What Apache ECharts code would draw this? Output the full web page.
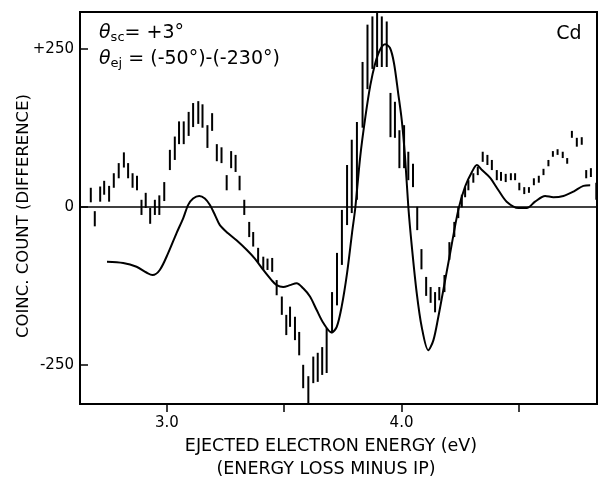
<!DOCTYPE html>
<html>
<head>
<meta charset="utf-8">
<script src="https://cdn.jsdelivr.net/npm/echarts@6/dist/echarts.min.js"></script>
<style>
html,body{margin:0;padding:0;background:#fff;}
#chart{width:598px;height:479px;}
</style>
</head>
<body>
<div id="chart"></div>
<script>
// Measured data points (error bars): energy (eV), lower and upper ends of each bar
var barX = [2.676, 2.693, 2.716, 2.733, 2.754, 2.774, 2.795, 2.817, 2.835, 2.854,
  2.873, 2.892, 2.910, 2.929, 2.949, 2.968, 2.989, 3.013, 3.034, 3.052,
  3.072, 3.093, 3.112, 3.134, 3.152, 3.173, 3.193, 3.213, 3.233, 3.255,
  3.274, 3.293, 3.310, 3.330, 3.351, 3.368, 3.389, 3.411, 3.429, 3.449,
  3.468, 3.490, 3.509, 3.525, 3.546, 3.564, 3.581, 3.603, 3.624, 3.643,
  3.662, 3.681, 3.704, 3.725, 3.746, 3.768, 3.788, 3.810, 3.834, 3.855,
  3.876, 3.896, 3.916, 3.937, 3.953, 3.972, 3.991, 4.011, 4.029, 4.049,
  4.067, 4.085, 4.105, 4.124, 4.143, 4.161, 4.183, 4.204, 4.225, 4.242,
  4.257, 4.271, 4.285, 4.306, 4.325, 4.346, 4.366, 4.385, 4.406, 4.424,
  4.444, 4.466, 4.484, 4.502, 4.523, 4.543, 4.564, 4.585, 4.605, 4.626,
  4.645, 4.665, 4.687, 4.706, 4.726, 4.747, 4.768, 4.787, 4.807, 4.830];
var barHigh = [30, -7, 32, 41, 33, 53, 69, 86, 69, 53,
  49, 11, 22, -2, 11, 18, 39, 90, 111, 135,
  135, 150, 164, 167, 162, 129, 148, 99, 94, 50,
  88, 82, 49, 11, -24, -40, -65, -79, -82, -81,
  -116, -142, -171, -158, -174, -198, -250, -268, -237, -231,
  -222, -192, -135, -73, -5, 66, 106, 134, 229, 288,
  301, 310, 301, 293, 180, 166, 121, 129, 87, 68,
  0, -67, -111, -127, -135, -127, -108, -56, -24, 0,
  19, 31, 42, 53, 63, 87, 82, 74, 58, 55,
  52, 53, 53, 38, 31, 31, 45, 49, 60, 74,
  88, 91, 87, 77, 120, 109, 110, 58, 61, 38];
var barLow = [7, -31, 8, 19, 8, 30, 45, 62, 45, 30,
  26, -13, -2, -27, -13, -13, 9, 58, 74, 99,
  99, 112, 126, 131, 125, 93, 120, 72, 69, 26,
  61, 55, 26, -13, -48, -63, -89, -100, -100, -103,
  -140, -171, -203, -190, -211, -235, -287, -320, -279, -277,
  -266, -263, -200, -156, -92, -29, -10, 11, 125, 186,
  218, 221, 221, 221, 110, 109, 61, 61, 42, 31,
  -37, -99, -141, -152, -167, -148, -135, -84, -48, -18,
  -1, 15, 26, 38, 50, 71, 66, 58, 42, 41,
  39, 42, 42, 26, 20, 22, 34, 38, 50, 64,
  79, 82, 77, 68, 109, 95, 98, 45, 47, 11];

// Theory curve
var curveX = [2.745, 2.814, 2.871, 2.913, 2.939, 2.970, 3.006, 3.041, 3.070, 3.091,
  3.112, 3.138, 3.162, 3.183, 3.205, 3.226, 3.261, 3.297, 3.340, 3.375,
  3.411, 3.446, 3.468, 3.496, 3.525, 3.553, 3.581, 3.610, 3.638, 3.667,
  3.702, 3.724, 3.745, 3.768, 3.789, 3.803, 3.824, 3.846, 3.867, 3.888,
  3.908, 3.930, 3.951, 3.968, 3.986, 4.001, 4.015, 4.029, 4.044, 4.065,
  4.086, 4.114, 4.136, 4.157, 4.178, 4.207, 4.242, 4.271, 4.300, 4.321,
  4.343, 4.377, 4.413, 4.448, 4.498, 4.534, 4.569, 4.612, 4.647, 4.690,
  4.733, 4.775, 4.804];
var curveY = [-87, -89, -95, -104, -108, -100, -73, -42, -18, 3,
  13, 17, 13, 3, -13, -29, -42, -53, -68, -82,
  -100, -116, -124, -127, -124, -121, -129, -142, -163, -184,
  -199, -190, -158, -105, -42, -2, 79, 142, 192, 227,
  248, 257, 251, 227, 179, 137, 79, 0, -63, -137,
  -190, -227, -211, -174, -132, -74, -5, 32, 55, 66,
  58, 46, 26, 8, -2, -2, 8, 17, 15, 17,
  24, 33, 34];

var xTicks = [3.0, 3.5, 4.0, 4.5];
var xLabels = [3.0, 4.0];
var yTicks = [-250, 0, 250];
var yLabels = [-250, 0, 250];

var FONT = 'DejaVu Sans';
var chart = echarts.init(document.getElementById('chart'), null, {renderer: 'canvas'});

var barData = barX.map(function (x, i) { return [x, barLow[i], barHigh[i]]; });
var curveData = curveX.map(function (x, i) { return [x, curveY[i]]; });

chart.setOption({
  animation: false,
  backgroundColor: '#fff',
  grid: {left: 80, right: 1, top: 12, bottom: 75, show: true, borderColor: '#000', borderWidth: 2, backgroundColor: 'transparent'},
  xAxis: {
    type: 'value', min: 2.63, max: 4.833,
    axisLine: {show: true, onZero: false, lineStyle: {color: '#000', width: 2}},
    axisTick: {show: true, inside: false, length: 8, customValues: xTicks, lineStyle: {color: '#000', width: 1.5}},
    axisLabel: {show: true, customValues: xLabels, margin: 12, color: '#000', fontFamily: FONT, fontSize: 15,
      formatter: function (v) { return v.toFixed(1); }},
    splitLine: {show: false}
  },
  yAxis: {
    type: 'value', min: -312, max: 308,
    axisLine: {show: true, onZero: false, lineStyle: {color: '#000', width: 2}},
    axisTick: {show: true, inside: true, length: 8, customValues: yTicks, lineStyle: {color: '#000', width: 1.5}},
    axisLabel: {show: true, customValues: yLabels, margin: 6, color: '#000', fontFamily: FONT, fontSize: 15,
      formatter: function (v) { return v > 0 ? '+' + v : String(v); }},
    splitLine: {show: false}
  },
  graphic: [
    {type: 'text', x: 24, y: 216, rotation: Math.PI / 2,
      style: {text: 'COINC. COUNT (DIFFERENCE)', fill: '#000', font: '16.5px "DejaVu Sans"', textAlign: 'center', textVerticalAlign: 'middle'}},
    {type: 'text', x: 331, y: 446,
      style: {text: 'EJECTED ELECTRON ENERGY (eV)', fill: '#000', font: '17.5px "DejaVu Sans"', textAlign: 'center', textVerticalAlign: 'middle'}},
    {type: 'text', x: 326, y: 469,
      style: {text: '(ENERGY LOSS MINUS IP)', fill: '#000', font: '17.5px "DejaVu Sans"', textAlign: 'center', textVerticalAlign: 'middle'}},
    {type: 'text', x: 569, y: 34,
      style: {text: 'Cd', fill: '#000', font: '19px "DejaVu Sans"', textAlign: 'center', textVerticalAlign: 'middle'}},
    {type: 'text', x: 99, y: 33,
      style: {text: '{t|θ}{s|sc}{n|= +3°}', textAlign: 'left', textVerticalAlign: 'middle', fill: '#000',
        rich: {t: {fontFamily: FONT, fontSize: 19, fontStyle: 'italic'}, s: {fontFamily: FONT, fontSize: 13, padding: [10, 0, 0, 0]}, n: {fontFamily: FONT, fontSize: 19}}}},
    {type: 'text', x: 99, y: 59,
      style: {text: '{t|θ}{s|ej}{n| = (-50°)-(-230°)}', textAlign: 'left', textVerticalAlign: 'middle', fill: '#000',
        rich: {t: {fontFamily: FONT, fontSize: 19, fontStyle: 'italic'}, s: {fontFamily: FONT, fontSize: 13, padding: [10, 0, 0, 0]}, n: {fontFamily: FONT, fontSize: 19}}}}
  ],
  series: [
    {
      type: 'line', data: curveData, smooth: 0.3, showSymbol: false, symbol: 'none',
      lineStyle: {color: '#000', width: 2}, z: 3,
      markLine: {silent: true, symbol: 'none', label: {show: false},
        lineStyle: {color: '#000', width: 1.5, type: 'solid'}, data: [{yAxis: 0}]}
    },
    {
      type: 'custom', data: barData, clip: true, encode: {x: 0, y: [1, 2]}, z: 4,
      renderItem: function (params, api) {
        var x = api.value(0);
        var p1 = api.coord([x, api.value(2)]);
        var p2 = api.coord([x, api.value(1)]);
        return {type: 'line', shape: {x1: p1[0], y1: p1[1], x2: p2[0], y2: p2[1]},
          style: {stroke: '#000', lineWidth: 2}};
      }
    }
  ]
});
</script>
</body>
</html>
